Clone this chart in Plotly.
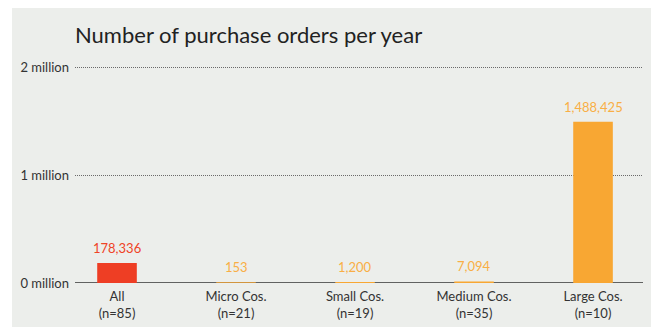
import plotly.graph_objects as go

categories = ["All<br>(n=85)", "Micro Cos.<br>(n=21)", "Small Cos.<br>(n=19)",
              "Medium Cos.<br>(n=35)", "Large Cos.<br>(n=10)"]
orders = [178336, 153, 1200, 7094, 1488425]
bar_colors = ["#ee3e24", "#f8a733", "#f8a733", "#f8a733", "#f8a733"]
label_colors = ["#ef4326", "#f9ae45", "#f9ae45", "#f9ae45", "#f9ae45"]
tick_vals = [0, 1_000_000, 2_000_000]
tick_text = ["0 million", "1 million", "2 million"]

W, H = 662, 327
Y_MAX = 2_050_000
L, R, B = 75, 643, 283
px_per_unit = 108 / 1_000_000
T = round(B - Y_MAX * px_per_unit)
pw, ph = R - L, B - T


def px_x(px):
    return (px - L) / pw


def px_y(py):
    return (B - py) / ph


fig = go.Figure()
# outline in the fill colour keeps the near-zero bars visible on the baseline
fig.add_trace(go.Bar(
    x=list(range(len(categories))), y=orders,
    marker=dict(color=bar_colors, line=dict(width=1.5, color=bar_colors)),
    width=0.32, hoverinfo="skip",
))

for i, (v, c) in enumerate(zip(orders, label_colors)):
    fig.add_annotation(x=i, y=v, text=f"{v:,}", showarrow=False,
                       yanchor="bottom", yshift=6,
                       font=dict(family="Lato", size=13, color=c))

# grey card behind the chart
fig.add_shape(type="rect", xref="paper", yref="paper",
              x0=px_x(12), x1=px_x(651), y0=px_y(330), y1=px_y(8),
              fillcolor="#eceeeb", line=dict(width=0), layer="below")
# baseline, under the bars
fig.add_shape(type="line", xref="paper", yref="y", x0=0, x1=1, y0=0, y1=0,
              line=dict(color="#333333", width=1.3), layer="between")

fig.update_layout(
    width=W, height=H,
    margin=dict(l=L, r=W - R, t=T, b=H - B, pad=0, autoexpand=False),
    paper_bgcolor="white", plot_bgcolor="rgba(0,0,0,0)",
    showlegend=False,
    font=dict(family="Lato", size=13, color="#333333"),
    title=dict(text="Number of purchase orders per year", x=L / W,
               xanchor="left", y=1 - 35 / H, yanchor="middle", xref="container",
               font=dict(family="Lato", size=22, color="#222222")),
    xaxis=dict(tickvals=list(range(len(categories))), ticktext=categories,
               range=[-0.353, 4.42], showgrid=False, zeroline=False,
               ticks="", ticklabelstandoff=4, automargin=False,
               tickfont=dict(size=13, color="#333333"), fixedrange=True),
    yaxis=dict(tickvals=tick_vals, ticktext=tick_text, range=[0, Y_MAX],
               showgrid=True, gridcolor="#6a6a6a", griddash="1px,1px", gridwidth=1,
               zeroline=False, ticks="", ticklabelstandoff=5, automargin=False,
               tickfont=dict(size=13, color="#333333"), fixedrange=True),
)

fig.write_html("out.html")
